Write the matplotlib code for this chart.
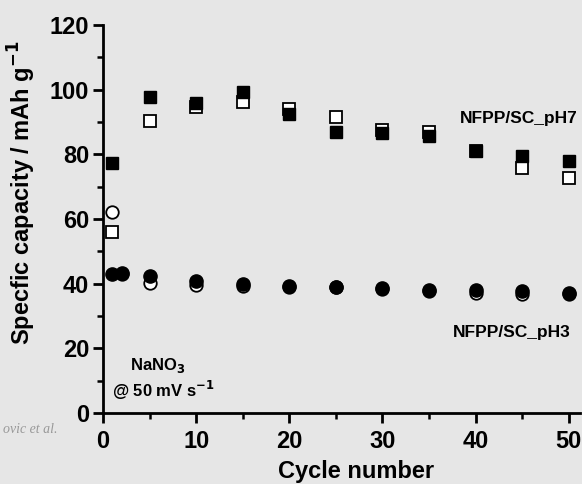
import matplotlib.pyplot as plt
from matplotlib.ticker import MultipleLocator

# cycle numbers
cycles = [1, 5, 10, 15, 20, 25, 30, 35, 40, 45, 50]
cycles_ph3 = [1, 2, 5, 10, 15, 20, 25, 30, 35, 40, 45, 50]

# NFPP/SC_pH7 (squares)
ph7_filled = [77.3, 97.8, 96.0, 99.3, 92.6, 86.8, 86.5, 85.6, 81.0, 79.4, 77.8]
ph7_open = [56.0, 90.3, 94.6, 96.3, 94.0, 91.6, 87.6, 87.0, 81.0, 75.7, 72.8]

# NFPP/SC_pH3 (circles)
ph3_filled = [43.0, 43.3, 42.4, 40.8, 39.8, 39.2, 39.1, 38.6, 38.1, 37.9, 37.6, 37.0]
ph3_open = [62.3, 43.0, 40.1, 39.5, 39.3, 39.0, 38.9, 38.4, 37.6, 37.1, 36.7, 36.8]

plt.rcParams['font.family'] = ['Liberation Sans', 'DejaVu Sans']
plt.rcParams['font.weight'] = 'bold'

fig = plt.figure(figsize=(5.82, 4.84), dpi=100)
fig.patch.set_facecolor('#e6e6e6')
ax = fig.add_axes([103 / 582, 1 - 413 / 484, 477 / 582, 388 / 484])
ax.set_facecolor('#e6e6e6')

# open markers first, filled ones drawn over them
ax.plot(cycles, ph7_open, 's', mfc='white', mec='black', mew=1.3, ms=8, ls='none')
ax.plot(cycles, ph7_filled, 's', color='black', ms=8.5, ls='none')
ax.plot(cycles_ph3, ph3_open, 'o', mfc='white', mec='black', mew=1.3, ms=9, ls='none')
ax.plot(cycles_ph3, ph3_filled, 'o', color='black', ms=9.5, ls='none')

ax.set_xlim(0, 51.2)
ax.set_ylim(0, 120)
ax.xaxis.set_major_locator(MultipleLocator(10))
ax.xaxis.set_minor_locator(MultipleLocator(5))
ax.yaxis.set_major_locator(MultipleLocator(20))
ax.yaxis.set_minor_locator(MultipleLocator(10))

for side in ['top', 'right']:
    ax.spines[side].set_visible(False)
for side in ['left', 'bottom']:
    ax.spines[side].set_linewidth(2)

ax.tick_params(axis='both', which='major', length=7, width=2, labelsize=17)
ax.tick_params(axis='y', which='major', pad=3)
ax.tick_params(axis='x', which='major', pad=5)
ax.tick_params(axis='both', which='minor', length=4, width=1.8)
for lab in ax.get_xticklabels() + ax.get_yticklabels():
    lab.set_fontweight('bold')

ax.set_xlabel('Cycle number', fontsize=17, fontweight='bold')
ax.xaxis.set_label_coords(0.53, -0.12)
ax.set_ylabel('Specfic capacity / mAh g$^{\\mathbf{-1}}$', fontsize=17, fontweight='bold')
ax.yaxis.set_label_coords(-0.136, 0.568)

ax.text(50.9, 91, 'NFPP/SC_pH7', fontsize=12.5, fontweight='bold', ha='right', va='center')
ax.text(50.2, 25, 'NFPP/SC_pH3', fontsize=12.5, fontweight='bold', ha='right', va='center')
ax.text(2.9, 14.8, 'NaNO$_\\mathbf{3}$', fontsize=12, fontweight='bold', ha='left', va='center')
ax.text(1.0, 7.0, '@ 50 mV s$^{\\mathbf{-1}}$', fontsize=12, fontweight='bold', ha='left', va='center')

fig.text(0.005, 0.105, 'ovic et al.', fontsize=10, style='italic', family='Liberation Serif',
         fontweight='normal', color='#999999')

fig.savefig('out.png', dpi=100, facecolor=fig.get_facecolor())
